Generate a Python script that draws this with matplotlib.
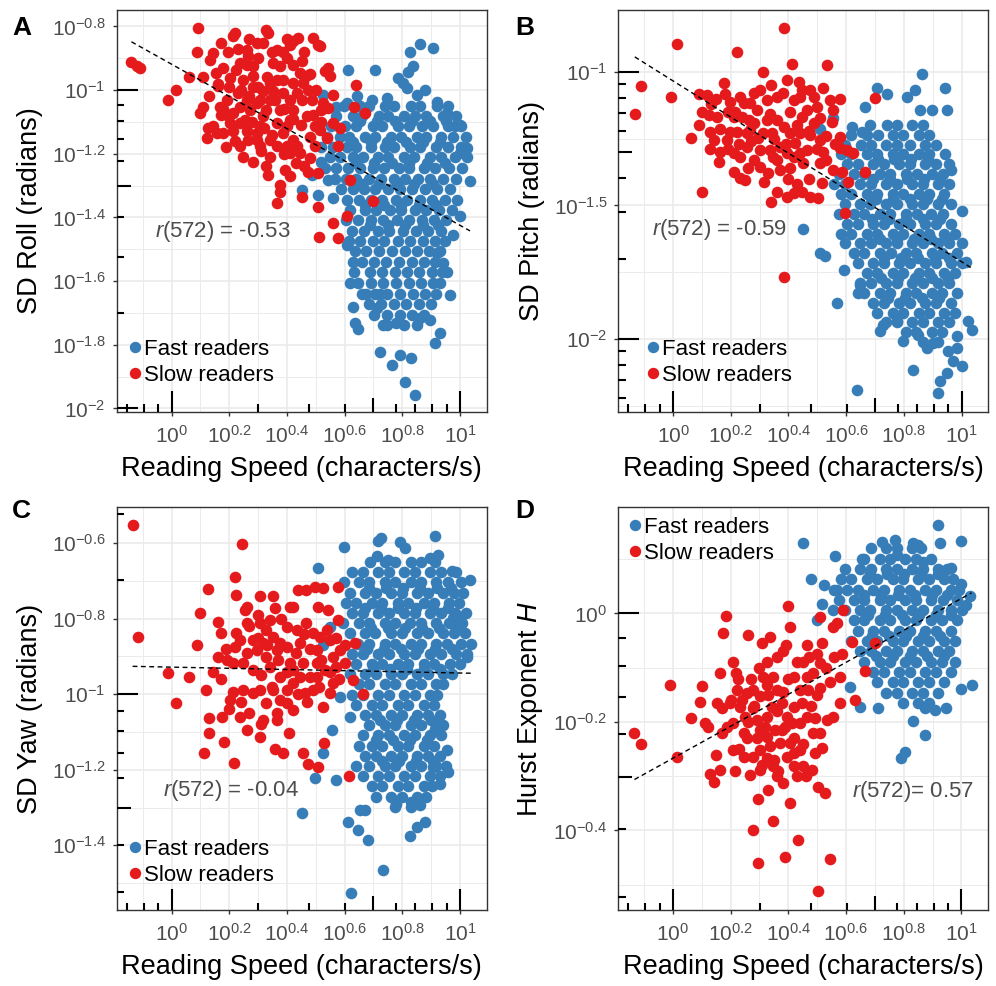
#!/usr/bin/env python3
"""
Head movement variability and Hurst exponent vs reading speed (log-log),
fast vs slow readers, with linear fit in log space.
"""
import numpy as np
import matplotlib
matplotlib.use('Agg')
import matplotlib.pyplot as plt
from matplotlib.lines import Line2D
from matplotlib.transforms import blended_transform_factory

plt.rcParams['font.family'] = ['Liberation Sans', 'DejaVu Sans']
plt.rcParams['mathtext.fontset'] = 'custom'
plt.rcParams['mathtext.rm'] = 'Liberation Sans'
plt.rcParams['mathtext.it'] = 'Liberation Sans:italic'
plt.rcParams['mathtext.bf'] = 'Liberation Sans:bold'
plt.rcParams['mathtext.default'] = 'regular'

BLUE = '#377EB8'
RED = '#E41A1C'

# all values are log10: (reading speed, measure)

# ---- A: SD roll ----
slow_roll = [
    (-0.139, -0.913), (-0.121, -0.926), (-0.110, -0.931), (-0.012, -1.031), (0.014, -0.999),
    (0.061, -0.959), (0.092, -0.805), (0.090, -0.879), (0.098, -1.073), (0.110, -1.052),
    (0.124, -1.151), (0.127, -1.120), (0.135, -0.905), (0.145, -0.884), (0.154, -0.947),
    (0.162, -0.987), (0.170, -0.852), (0.179, -0.931), (0.197, -0.879), (0.202, -0.962),
    (0.214, -0.831), (0.220, -0.821), (0.168, -1.052), (0.173, -1.078), (0.191, -1.031),
    (0.202, -1.104), (0.214, -1.130), (0.231, -1.010), (0.237, -1.052), (0.249, -0.968),
    (0.260, -0.873), (0.266, -0.894), (0.283, -0.926), (0.295, -0.852), (0.318, -0.852),
    (0.329, -0.810), (0.335, -0.821), (0.283, -0.957), (0.237, -1.177), (0.249, -1.209),
    (0.283, -1.225), (0.266, -1.156), (0.295, -1.135), (0.306, -1.114), (0.318, -1.083),
    (0.329, -1.062), (0.341, -1.031), (0.353, -1.004), (0.364, -0.968), (0.376, -0.926),
    (0.387, -0.879), (0.399, -0.900), (0.410, -0.858), (0.422, -0.847), (0.439, -0.837),
    (0.451, -0.910), (0.491, -0.837), (0.509, -0.858), (0.514, -0.863), (0.329, -1.240),
    (0.335, -1.266), (0.376, -1.298), (0.376, -1.319), (0.364, -1.356), (0.393, -1.251),
    (0.306, -1.177), (0.295, -1.156), (0.341, -1.156), (0.364, -1.177), (0.387, -1.135),
    (0.399, -1.114), (0.410, -1.094), (0.422, -1.156), (0.434, -1.177), (0.445, -1.198),
    (0.451, -1.031), (0.457, -0.978), (0.468, -0.957), (0.474, -0.999), (0.434, -1.010),
    (0.422, -0.978), (0.445, -0.947), (0.486, -1.031), (0.491, -1.078), (0.497, -1.114),
    (0.480, -1.146), (0.497, -1.177), (0.480, -1.214), (0.474, -1.256), (0.509, -1.261),
    (0.451, -1.335), (0.509, -1.366), (0.513, -1.460), (0.561, -1.418), (0.578, -1.466),
    (0.607, -1.397), (0.618, -1.282), (0.699, -1.350), (0.639, -0.983), (0.632, -1.052),
    (0.671, -1.073), (0.543, -0.931), (0.549, -0.957), (0.532, -0.941), (0.561, -1.015),
    (0.561, -1.104), (0.584, -1.120), (0.578, -1.177), (0.520, -1.062), (0.526, -1.041),
    (0.543, -1.057), (0.514, -1.125), (0.295, -1.041), (0.318, -1.004), (0.272, -1.062),
    (0.237, -1.104), (0.214, -1.073), (0.145, -1.114), (0.156, -1.135), (0.179, -1.135),
    (0.191, -1.078), (0.376, -1.062), (0.364, -1.104), (0.387, -1.010), (0.410, -1.031),
    (0.422, -1.062), (0.399, -1.177), (0.410, -1.198), (0.306, -1.031), (0.283, -0.989),
    (0.237, -0.915), (0.225, -0.936), (0.353, -0.915), (0.364, -0.873), (0.387, -0.968),
    (0.341, -0.978), (0.260, -1.031), (0.254, -1.094),
    (0.200, -0.990), (0.240, -1.000), (0.270, -1.020), (0.300, -0.990), (0.330, -0.960),
    (0.360, -1.030), (0.390, -1.060), (0.420, -1.090), (0.450, -1.110), (0.470, -1.080),
    (0.320, -1.120), (0.350, -1.140), (0.280, -1.100), (0.260, -1.130), (0.220, -1.160),
    (0.190, -1.180), (0.310, -1.190), (0.340, -1.210), (0.390, -1.200), (0.430, -1.230),
    (0.460, -1.240), (0.410, -1.270), (0.350, -0.880), (0.300, -0.900), (0.260, -0.920),
    (0.420, -0.920), (0.460, -0.880), (0.480, -0.950), (0.500, -1.000), (0.520, -1.100),
    (0.540, -1.150), (0.160, -0.980), (0.130, -1.020), (0.180, -1.060), (0.110, -0.960),
    (0.230, -0.870), (0.270, -0.840), (0.400, -0.840),
]
fast_roll = [
    (0.861, -0.855), (0.905, -0.868), (0.827, -0.879), (0.838, -0.926), (0.821, -0.942),
    (0.613, -0.936), (0.705, -0.936), (0.786, -0.962), (0.803, -0.978), (0.815, -0.994),
    (0.850, -1.015), (0.879, -0.999), (0.526, -1.015), (0.642, -1.020), (0.607, -1.041),
    (0.572, -1.052), (0.694, -1.031), (0.746, -1.025), (0.954, -1.073), (0.919, -1.036),
    (0.983, -1.114), (1.000, -1.109), (1.023, -1.183), (1.000, -1.198), (1.035, -1.287),
    (1.000, -1.397), (0.977, -1.455), (0.451, -1.314), (0.486, -1.266), (0.509, -1.329),
    (0.561, -1.340), (0.607, -1.487), (0.520, -1.225), (0.543, -1.282), (0.618, -1.607),
    (0.630, -1.681), (0.636, -1.733), (0.647, -1.749), (0.723, -1.822), (0.763, -1.864),
    (0.792, -1.833), (0.809, -1.916), (0.844, -1.958), (0.832, -1.843), (0.913, -1.796),
    (0.931, -1.764), (0.965, -1.644), (0.954, -1.570), (0.896, -1.722), (0.861, -1.717),
    (0.734, -1.738), (0.780, -1.733), (0.711, -1.686), (0.676, -1.639), (0.723, -1.639),
    (0.919, -1.513), (0.942, -1.544),
]
# dense part of the fast-reader cloud, one row per roll level
fast_roll_rows = [
    (-1.050, [0.598, 0.652, 0.683, 0.741, 0.772, 0.829, 0.861, 0.922, 0.958]),
    (-1.081, [0.571, 0.630, 0.662, 0.718, 0.750, 0.806, 0.845, 0.884, 0.941, 0.985]),
    (-1.097, [0.652, 0.713, 0.774, 0.833, 0.897, 0.951]),
    (-1.113, [0.552, 0.603, 0.640, 0.697, 0.729, 0.784, 0.822, 0.868, 0.905, 0.957, 1.002]),
    (-1.146, [0.538, 0.583, 0.615, 0.671, 0.706, 0.761, 0.797, 0.850, 0.884, 0.933, 0.975, 1.022]),
    (-1.162, [0.628, 0.690, 0.748, 0.812, 0.871, 0.930]),
    (-1.178, [0.519, 0.560, 0.607, 0.641, 0.693, 0.739, 0.772, 0.828, 0.861, 0.917, 0.958, 1.003]),
    (-1.211, [0.548, 0.585, 0.628, 0.664, 0.716, 0.751, 0.806, 0.840, 0.895, 0.933, 0.984, 1.024]),
    (-1.228, [0.641, 0.703, 0.766, 0.825, 0.886, 0.947]),
    (-1.245, [0.531, 0.570, 0.612, 0.655, 0.697, 0.737, 0.789, 0.823, 0.874, 0.913, 0.962, 1.008]),
    (-1.279, [0.566, 0.604, 0.639, 0.684, 0.726, 0.770, 0.808, 0.856, 0.897, 0.941, 0.986]),
    (-1.295, [0.660, 0.719, 0.781, 0.842, 0.905]),
    (-1.312, [0.587, 0.628, 0.666, 0.706, 0.752, 0.793, 0.833, 0.879, 0.919, 0.967]),
    (-1.344, [0.608, 0.651, 0.693, 0.731, 0.779, 0.818, 0.862, 0.902, 0.948, 0.989]),
    (-1.360, [0.672, 0.736, 0.795, 0.858, 0.917]),
    (-1.376, [0.619, 0.672, 0.710, 0.757, 0.797, 0.844, 0.883, 0.928, 0.972]),
    (-1.409, [0.606, 0.648, 0.692, 0.734, 0.781, 0.822, 0.868, 0.909, 0.951]),
    (-1.425, [0.688, 0.749, 0.811, 0.872, 0.925]),
    (-1.442, [0.627, 0.669, 0.716, 0.755, 0.803, 0.846, 0.889, 0.936]),
    (-1.474, [0.614, 0.652, 0.697, 0.738, 0.784, 0.826, 0.871, 0.915, 0.947]),
    (-1.507, [0.636, 0.676, 0.720, 0.763, 0.809, 0.852, 0.894, 0.931]),
    (-1.540, [0.628, 0.662, 0.703, 0.745, 0.790, 0.833, 0.876, 0.914]),
    (-1.573, [0.632, 0.688, 0.731, 0.774, 0.817, 0.859, 0.902, 0.938]),
    (-1.606, [0.645, 0.691, 0.734, 0.778, 0.822, 0.866, 0.908, 0.931]),
    (-1.639, [0.662, 0.705, 0.748, 0.791, 0.836, 0.879, 0.918]),
    (-1.672, [0.684, 0.727, 0.772, 0.814, 0.857, 0.898]),
    (-1.705, [0.702, 0.748, 0.792, 0.835, 0.876]),
    (-1.738, [0.748, 0.806, 0.852]),
]

# ---- B: SD pitch ----
slow_pitch = [
    (-0.133, -1.159), (-0.111, -1.052), (-0.009, -1.093), (0.014, -0.897), (0.062, -1.249),
    (0.091, -1.081), (0.118, -1.087), (0.100, -1.448), (0.089, -1.199), (0.123, -1.162),
    (0.129, -1.224), (0.127, -1.290), (0.158, -1.336), (0.164, -1.299), (0.178, -1.040),
    (0.181, -1.081), (0.198, -1.112), (0.221, -0.925), (0.216, -1.149), (0.221, -1.224),
    (0.210, -1.374), (0.233, -1.399), (0.250, -1.405), (0.233, -1.318), (0.256, -1.280),
    (0.262, -1.181), (0.268, -1.118), (0.291, -1.143), (0.296, -1.249), (0.310, -1.000),
    (0.302, -1.068), (0.325, -1.106), (0.337, -1.156), (0.343, -1.230), (0.302, -1.355),
    (0.314, -1.411), (0.339, -1.486), (0.360, -1.448), (0.371, -1.367), (0.383, -0.834),
    (0.394, -1.031), (0.412, -0.969), (0.435, -1.037), (0.383, -1.768), (0.371, -1.280),
    (0.394, -1.305), (0.383, -1.205), (0.360, -1.093), (0.406, -1.149), (0.418, -1.106),
    (0.441, -1.093), (0.446, -1.068), (0.475, -1.068), (0.487, -1.093), (0.533, -0.975),
    (0.406, -1.230), (0.423, -1.268), (0.441, -1.305), (0.464, -1.293), (0.418, -1.318),
    (0.406, -1.361), (0.394, -1.467), (0.418, -1.455), (0.446, -1.448), (0.475, -1.467),
    (0.504, -1.473), (0.515, -1.417), (0.510, -1.342), (0.521, -1.299), (0.510, -1.255),
    (0.475, -1.237), (0.510, -1.174), (0.544, -1.106), (0.556, -1.143), (0.579, -1.100),
    (0.550, -1.187), (0.579, -1.243), (0.579, -1.286), (0.602, -1.293), (0.556, -1.367),
    (0.585, -1.374), (0.608, -1.411), (0.625, -1.305), (0.596, -1.529), (0.666, -1.374),
    (0.700, -1.096), (0.325, -1.181), (0.348, -1.318), (0.279, -1.330), (0.268, -1.218),
    (0.198, -1.224), (0.164, -1.212), (0.210, -1.168), (0.245, -1.118), (0.233, -1.093),
    (0.446, -1.168), (0.464, -1.143), (0.487, -1.193), (0.441, -1.230), (0.360, -1.181),
    (0.337, -1.293), (0.302, -1.293), (0.152, -1.168), (0.141, -1.255), (0.187, -1.255),
    (0.210, -1.305), (0.256, -1.230),
    (0.150, -1.100), (0.190, -1.150), (0.240, -1.170), (0.280, -1.190), (0.310, -1.230),
    (0.350, -1.250), (0.390, -1.270), (0.430, -1.200), (0.470, -1.220), (0.500, -1.290),
    (0.530, -1.330), (0.450, -1.340), (0.400, -1.400), (0.360, -1.330), (0.270, -1.260),
    (0.230, -1.270), (0.190, -1.290), (0.260, -1.360), (0.330, -1.380), (0.430, -1.420),
    (0.470, -1.400), (0.530, -1.240), (0.560, -1.270), (0.280, -1.080), (0.340, -1.050),
    (0.380, -1.080), (0.500, -1.130), (0.520, -1.060), (0.130, -1.120), (0.100, -1.150),
]
fast_pitch = [
    (0.862, -1.009), (0.942, -1.059), (0.948, -1.143), (0.706, -1.062), (0.741, -1.081),
    (0.810, -1.093), (0.839, -1.068), (0.666, -1.133), (0.856, -1.143), (0.896, -1.143),
    (0.556, -1.174), (0.619, -1.205), (0.654, -1.224), (0.510, -1.212), (0.965, -1.367),
    (1.000, -1.519), (0.452, -1.589), (1.017, -1.710), (0.567, -1.866), (0.637, -2.189),
    (0.833, -2.115), (0.919, -2.202), (0.925, -2.158), (0.948, -2.127), (1.000, -2.102),
    (0.971, -2.083), (0.798, -2.009), (0.879, -2.034), (0.717, -1.971), (1.035, -1.965),
    (1.023, -1.934), (0.983, -1.990), (0.510, -1.679), (0.527, -1.691), (0.591, -1.741),
    (0.729, -1.946), (0.775, -1.934), (0.850, -1.984), (0.902, -2.015), (0.954, -2.046),
    (0.983, -2.034), (0.648, -1.797), (0.642, -1.828),
]
fast_pitch_rows = [
    (-1.200, [0.684, 0.741, 0.776, 0.829, 0.866]),
    (-1.236, [0.618, 0.672, 0.709, 0.763, 0.798, 0.851, 0.889]),
    (-1.273, [0.596, 0.651, 0.686, 0.739, 0.777, 0.822, 0.874, 0.911]),
    (-1.309, [0.582, 0.617, 0.671, 0.708, 0.762, 0.797, 0.852, 0.889, 0.942]),
    (-1.327, [0.712, 0.767, 0.826, 0.885]),
    (-1.346, [0.603, 0.640, 0.694, 0.731, 0.784, 0.821, 0.873, 0.912, 0.957]),
    (-1.383, [0.574, 0.626, 0.662, 0.717, 0.753, 0.806, 0.844, 0.897, 0.935]),
    (-1.402, [0.694, 0.752, 0.811, 0.871, 0.926]),
    (-1.421, [0.558, 0.597, 0.649, 0.686, 0.739, 0.776, 0.829, 0.866, 0.919, 0.956]),
    (-1.457, [0.581, 0.618, 0.672, 0.707, 0.762, 0.798, 0.851, 0.888, 0.941]),
    (-1.476, [0.705, 0.763, 0.822, 0.880, 0.933]),
    (-1.494, [0.596, 0.649, 0.684, 0.739, 0.776, 0.828, 0.866, 0.918, 0.962]),
    (-1.531, [0.575, 0.627, 0.663, 0.716, 0.753, 0.806, 0.844, 0.895, 0.936]),
    (-1.550, [0.688, 0.748, 0.807, 0.866, 0.925]),
    (-1.568, [0.604, 0.641, 0.694, 0.731, 0.784, 0.821, 0.874, 0.911, 0.963]),
    (-1.605, [0.581, 0.618, 0.671, 0.708, 0.762, 0.798, 0.851, 0.888, 0.941, 0.979]),
    (-1.624, [0.716, 0.775, 0.834, 0.893, 0.948]),
    (-1.642, [0.597, 0.648, 0.686, 0.739, 0.776, 0.829, 0.866, 0.918, 0.956, 1.003]),
    (-1.679, [0.626, 0.663, 0.716, 0.754, 0.806, 0.843, 0.896, 0.934, 0.985]),
    (-1.697, [0.731, 0.790, 0.849, 0.908, 0.958]),
    (-1.716, [0.641, 0.694, 0.731, 0.784, 0.821, 0.874, 0.911, 0.964, 1.002]),
    (-1.753, [0.672, 0.708, 0.762, 0.798, 0.851, 0.888, 0.941, 0.979]),
    (-1.771, [0.722, 0.781, 0.840, 0.899, 0.952]),
    (-1.790, [0.649, 0.686, 0.739, 0.776, 0.829, 0.866, 0.918, 0.957]),
    (-1.827, [0.663, 0.716, 0.753, 0.806, 0.843, 0.896, 0.934, 0.986]),
    (-1.845, [0.745, 0.804, 0.863, 0.921]),
    (-1.864, [0.694, 0.731, 0.784, 0.821, 0.874, 0.911, 0.963]),
    (-1.901, [0.708, 0.762, 0.798, 0.851, 0.888, 0.941, 0.979]),
    (-1.938, [0.739, 0.776, 0.829, 0.866, 0.918, 0.957]),
    (-1.975, [0.806, 0.843, 0.896, 0.934]),
    (-2.012, [0.866, 0.918]),
]

# ---- C: SD yaw ----
slow_yaw = [
    (-0.135, -0.553), (-0.116, -0.848), (-0.012, -0.943), (0.014, -1.023), (0.061, -0.955),
    (0.090, -0.870), (0.098, -0.786), (0.125, -0.722), (0.112, -1.155), (0.129, -1.062),
    (0.130, -1.104), (0.119, -0.989), (0.145, -0.940), (0.162, -0.808), (0.173, -0.839),
    (0.162, -0.901), (0.176, -1.060), (0.181, -1.126), (0.202, -1.016), (0.214, -0.993),
    (0.220, -0.690), (0.223, -0.737), (0.216, -1.182), (0.225, -0.839), (0.220, -0.874),
    (0.246, -0.603), (0.255, -0.777), (0.260, -0.812), (0.260, -0.892), (0.237, -1.060),
    (0.260, -1.095), (0.249, -0.989), (0.283, -0.856), (0.295, -0.883), (0.306, -0.741),
    (0.318, -0.865), (0.306, -1.113), (0.318, -1.069), (0.329, -0.901), (0.341, -0.927),
    (0.353, -0.741), (0.358, -0.772), (0.353, -0.848), (0.358, -1.144), (0.364, -1.069),
    (0.387, -1.157), (0.376, -1.016), (0.376, -0.954), (0.399, -0.821), (0.410, -0.768),
    (0.399, -0.874), (0.410, -0.918), (0.408, -1.104), (0.422, -1.042), (0.439, -0.724),
    (0.468, -0.724), (0.497, -0.715), (0.526, -0.719), (0.445, -0.865), (0.457, -0.918),
    (0.462, -0.998), (0.480, -0.954), (0.491, -0.839), (0.503, -0.883), (0.509, -0.768),
    (0.543, -0.777), (0.532, -0.936), (0.526, -1.033), (0.530, -1.130), (0.457, -1.157),
    (0.474, -1.184), (0.509, -1.192), (0.561, -0.971), (0.578, -0.715), (0.578, -0.803),
    (0.584, -0.883), (0.636, -0.865), (0.630, -0.963), (0.665, -1.000), (0.616, -1.217),
    (0.561, -0.901), (0.549, -0.998), (0.491, -0.989), (0.422, -0.971), (0.399, -0.989),
    (0.353, -0.989), (0.306, -0.989), (0.283, -0.936), (0.329, -0.830), (0.306, -0.812),
    (0.364, -0.883), (0.341, -0.803), (0.376, -0.865), (0.434, -0.830), (0.468, -0.812),
    (0.514, -0.848), (0.549, -0.856), (0.572, -0.927), (0.601, -0.918), (0.445, -0.954),
    (0.503, -0.954), (0.503, -0.918), (0.422, -0.936), (0.214, -0.918), (0.191, -0.909),
    (0.249, -0.918), (0.237, -0.856), (0.283, -0.998), (0.329, -1.024), (0.364, -1.051),
    (0.399, -1.024),
    (0.270, -0.820), (0.300, -0.850), (0.330, -0.870), (0.370, -0.910), (0.400, -0.940),
    (0.430, -0.890), (0.460, -0.840), (0.480, -0.880), (0.520, -0.910), (0.550, -0.940),
    (0.580, -0.960), (0.310, -0.950), (0.350, -0.980), (0.440, -1.000), (0.470, -1.020),
    (0.510, -0.980), (0.260, -0.770), (0.300, -0.790), (0.380, -0.800), (0.420, -0.770),
    (0.240, -1.020), (0.270, -1.050), (0.310, -1.080), (0.200, -1.040), (0.170, -0.960),
    (0.190, -0.880), (0.570, -0.850), (0.600, -0.870), (0.540, -0.830),
]
fast_yaw = [
    (0.913, -0.581), (0.728, -0.587), (0.717, -0.595), (0.792, -0.596), (0.809, -0.613),
    (0.599, -0.611), (0.509, -0.665), (0.711, -0.635), (0.751, -0.644), (0.896, -0.640),
    (0.925, -0.631), (0.971, -0.675), (1.035, -0.697), (1.000, -0.795), (0.977, -0.799),
    (1.023, -0.901), (0.549, -0.821), (0.526, -0.870), (0.555, -1.095), (0.526, -1.157),
    (0.497, -1.223), (0.570, -1.228), (0.451, -1.314), (0.613, -1.338), (0.647, -1.360),
    (0.682, -1.387), (0.653, -1.307), (0.671, -1.307), (0.734, -1.465), (0.621, -1.527),
    (0.827, -1.375), (0.879, -1.338), (0.850, -1.352), (0.780, -1.290), (0.832, -1.285),
    (0.861, -1.294), (0.960, -1.206), (0.931, -1.237), (0.954, -1.148), (0.913, -1.091),
    (0.908, -1.192), (0.584, -1.007), (0.618, -1.060),
]
fast_yaw_rows = [
    (-0.650, [0.688, 0.741, 0.776, 0.829, 0.866, 0.912]),
    (-0.677, [0.626, 0.663, 0.716, 0.753, 0.806, 0.843, 0.896, 0.934, 0.985]),
    (-0.704, [0.597, 0.649, 0.686, 0.739, 0.776, 0.829, 0.866, 0.918, 0.957, 1.003]),
    (-0.718, [0.684, 0.742, 0.801, 0.860, 0.919, 0.968]),
    (-0.731, [0.618, 0.672, 0.708, 0.762, 0.798, 0.851, 0.888, 0.941, 0.979, 1.012]),
    (-0.758, [0.604, 0.641, 0.694, 0.731, 0.784, 0.821, 0.874, 0.911, 0.963, 0.998]),
    (-0.772, [0.670, 0.728, 0.787, 0.846, 0.905, 0.960]),
    (-0.785, [0.627, 0.663, 0.716, 0.753, 0.806, 0.844, 0.895, 0.936, 0.984, 1.021]),
    (-0.812, [0.596, 0.649, 0.684, 0.739, 0.776, 0.828, 0.866, 0.918, 0.962, 1.006]),
    (-0.826, [0.692, 0.750, 0.809, 0.868, 0.927, 0.985]),
    (-0.839, [0.618, 0.672, 0.707, 0.762, 0.798, 0.851, 0.888, 0.941, 0.979, 1.018]),
    (-0.866, [0.648, 0.686, 0.739, 0.776, 0.829, 0.866, 0.918, 0.956, 1.003, 1.038]),
    (-0.880, [0.677, 0.736, 0.795, 0.854, 0.913, 0.972]),
    (-0.893, [0.626, 0.663, 0.716, 0.754, 0.806, 0.843, 0.896, 0.934, 0.985, 1.026]),
    (-0.920, [0.641, 0.694, 0.731, 0.784, 0.821, 0.874, 0.911, 0.964, 1.001]),
    (-0.934, [0.700, 0.758, 0.817, 0.876, 0.930]),
    (-0.947, [0.618, 0.672, 0.708, 0.762, 0.798, 0.851, 0.888, 0.941, 0.972]),
    (-0.974, [0.649, 0.686, 0.739, 0.776, 0.829, 0.866, 0.918, 0.942]),
    (-1.001, [0.626, 0.663, 0.716, 0.753, 0.806, 0.843, 0.896, 0.921]),
    (-1.028, [0.641, 0.694, 0.731, 0.784, 0.821, 0.874, 0.911]),
    (-1.055, [0.672, 0.708, 0.762, 0.798, 0.851, 0.888, 0.932]),
    (-1.068, [0.722, 0.781, 0.840, 0.899]),
    (-1.082, [0.686, 0.739, 0.776, 0.829, 0.866, 0.918, 0.943]),
    (-1.109, [0.663, 0.716, 0.753, 0.806, 0.843, 0.896, 0.934]),
    (-1.122, [0.708, 0.767, 0.826, 0.885]),
    (-1.136, [0.649, 0.694, 0.731, 0.784, 0.821, 0.874, 0.911]),
    (-1.163, [0.672, 0.708, 0.762, 0.798, 0.851, 0.888, 0.932]),
    (-1.176, [0.730, 0.789, 0.848, 0.905]),
    (-1.190, [0.641, 0.686, 0.739, 0.776, 0.829, 0.866, 0.918, 0.951]),
    (-1.217, [0.663, 0.716, 0.753, 0.806, 0.843, 0.896, 0.931]),
    (-1.244, [0.694, 0.731, 0.784, 0.821, 0.874, 0.902]),
    (-1.271, [0.708, 0.762, 0.798, 0.851, 0.881]),
    (-1.298, [0.776, 0.829]),
]

# ---- D: Hurst exponent ----
slow_hurst = [
    (-0.133, -0.221), (-0.110, -0.240), (-0.009, -0.132), (0.016, -0.264), (0.062, -0.192),
    (0.100, -0.134), (0.095, -0.163), (0.112, -0.202), (0.123, -0.209), (0.129, -0.296),
    (0.141, -0.310), (0.164, -0.288), (0.152, -0.166), (0.164, -0.109), (0.173, -0.037),
    (0.183, -0.004), (0.170, -0.175), (0.189, -0.209), (0.199, -0.166), (0.210, -0.089),
    (0.210, -0.252), (0.216, -0.291), (0.221, -0.141), (0.227, -0.120), (0.233, -0.172),
    (0.250, -0.190), (0.256, -0.230), (0.262, -0.040), (0.268, -0.298), (0.279, -0.400),
    (0.291, -0.196), (0.296, -0.342), (0.296, -0.460), (0.302, -0.153), (0.308, -0.054),
    (0.325, -0.267), (0.331, -0.325), (0.337, -0.043), (0.325, -0.089), (0.325, -0.132),
    (0.343, -0.172), (0.348, -0.383), (0.354, -0.215), (0.360, -0.080), (0.366, -0.291),
    (0.371, -0.239), (0.377, -0.166), (0.383, -0.144), (0.389, -0.448), (0.392, -0.058),
    (0.400, 0.013), (0.406, -0.025), (0.406, -0.350), (0.412, -0.202), (0.418, -0.117),
    (0.418, -0.258), (0.435, -0.418), (0.441, -0.252), (0.446, -0.166), (0.452, -0.089),
    (0.464, -0.058), (0.469, -0.141), (0.481, -0.288), (0.487, -0.221), (0.492, -0.193),
    (0.498, -0.074), (0.504, -0.512), (0.510, -0.006), (0.515, -0.055), (0.515, -0.248),
    (0.504, -0.319), (0.527, -0.331), (0.533, -0.196), (0.544, -0.453), (0.556, -0.190),
    (0.579, -0.166), (0.556, -0.025), (0.567, -0.018), (0.579, -0.117), (0.585, -0.074),
    (0.591, 0.006), (0.619, -0.052), (0.631, -0.160), (0.665, -0.107), (0.700, -0.055),
    (0.544, -0.126), (0.510, -0.138), (0.487, -0.110), (0.510, -0.092), (0.464, -0.117),
    (0.441, -0.141), (0.418, -0.172), (0.394, -0.190), (0.377, -0.215), (0.406, -0.239),
    (0.394, -0.264), (0.418, -0.282), (0.452, -0.282), (0.492, -0.258), (0.510, -0.221),
    (0.348, -0.117), (0.314, -0.117), (0.279, -0.141), (0.256, -0.147), (0.302, -0.215),
    (0.325, -0.227), (0.337, -0.245), (0.302, -0.252), (0.348, -0.282), (0.383, -0.313),
    (0.245, -0.221), (0.210, -0.202), (0.279, -0.175), (0.325, -0.190), (0.360, -0.141),
    (0.441, -0.202), (0.464, -0.190), (0.279, -0.264), (0.245, -0.264), (0.302, -0.288),
    (0.240, -0.160), (0.270, -0.120), (0.300, -0.100), (0.330, -0.150), (0.360, -0.180),
    (0.390, -0.210), (0.420, -0.230), (0.450, -0.240), (0.480, -0.170), (0.500, -0.150),
    (0.530, -0.100), (0.560, -0.080), (0.290, -0.230), (0.260, -0.200), (0.230, -0.250),
    (0.310, -0.280), (0.350, -0.270), (0.430, -0.300), (0.460, -0.300), (0.400, -0.120),
    (0.430, -0.090), (0.470, -0.080), (0.380, -0.070), (0.200, -0.160), (0.170, -0.220),
    (0.150, -0.260), (0.360, -0.300), (0.320, -0.210), (0.280, -0.170), (0.220, -0.110),
]
fast_hurst = [
    (0.919, 0.163), (1.000, 0.134), (0.452, 0.129), (0.925, 0.129), (0.723, 0.132),
    (0.769, 0.135), (0.833, 0.129), (0.850, 0.126), (0.562, 0.106), (0.477, 0.063),
    (0.524, 0.052), (0.963, 0.083), (0.654, 0.101), (0.867, 0.095), (0.775, 0.107),
    (1.029, 0.032), (1.017, 0.015), (1.000, 0.055), (1.035, -0.132), (1.000, -0.140),
    (0.833, -0.199), (0.873, -0.224), (0.804, -0.255), (0.792, -0.267), (0.712, -0.175),
    (0.648, -0.172), (0.614, -0.135), (0.873, -0.175), (0.908, -0.178), (0.948, -0.175),
    (0.498, -0.012), (0.515, 0.018), (0.556, 0.006), (0.567, 0.043),
]
fast_hurst_rows = [
    (0.120, [0.686, 0.739, 0.776, 0.829, 0.861]),
    (0.101, [0.663, 0.716, 0.753, 0.806, 0.843, 0.896]),
    (0.082, [0.597, 0.649, 0.686, 0.739, 0.776, 0.829, 0.866, 0.918, 0.951]),
    (0.072, [0.682, 0.741, 0.800, 0.859, 0.917]),
    (0.063, [0.581, 0.618, 0.672, 0.708, 0.762, 0.798, 0.851, 0.888, 0.941, 0.972]),
    (0.044, [0.558, 0.604, 0.641, 0.694, 0.731, 0.784, 0.821, 0.874, 0.911, 0.963, 0.991]),
    (0.034, [0.663, 0.722, 0.781, 0.840, 0.899, 0.950]),
    (0.025, [0.575, 0.627, 0.663, 0.716, 0.753, 0.806, 0.844, 0.895, 0.936, 0.984]),
    (0.006, [0.596, 0.649, 0.684, 0.739, 0.776, 0.828, 0.866, 0.918, 0.962, 1.001]),
    (-0.003, [0.676, 0.735, 0.794, 0.853, 0.912, 0.965]),
    (-0.013, [0.626, 0.663, 0.716, 0.754, 0.806, 0.843, 0.896, 0.934, 0.985]),
    (-0.032, [0.641, 0.694, 0.731, 0.784, 0.821, 0.874, 0.911, 0.964]),
    (-0.041, [0.690, 0.749, 0.808, 0.867, 0.926]),
    (-0.051, [0.618, 0.672, 0.708, 0.762, 0.798, 0.851, 0.888, 0.941, 0.979]),
    (-0.070, [0.649, 0.686, 0.739, 0.776, 0.829, 0.866, 0.918, 0.957]),
    (-0.079, [0.705, 0.764, 0.823, 0.882, 0.941]),
    (-0.089, [0.663, 0.716, 0.753, 0.806, 0.843, 0.896, 0.934, 0.976]),
    (-0.108, [0.694, 0.731, 0.784, 0.821, 0.874, 0.911, 0.963]),
    (-0.127, [0.708, 0.762, 0.798, 0.851, 0.888, 0.941]),
    (-0.146, [0.739, 0.776, 0.829, 0.866, 0.918]),
    (-0.165, [0.798, 0.851, 0.888]),
]


def expand_rows(rows):
    """turn (y, [x, ...]) rows into (x, y) pairs"""
    return [(lx, ly) for ly, xs in rows for lx in xs]


def tick_label(v):
    v = round(v, 2)
    if v == int(v):
        return r'$10^{%d}$' % int(v)
    return r'$10^{%g}$' % v


def add_logticks(ax, xlim, ylim):
    """ggplot-style annotation_logticks on bottom and left, drawn inside"""
    bbox = ax.get_window_extent()
    w_px, h_px = bbox.width, bbox.height
    lengths = {1: 21, 5: 14}
    short = 7.5
    tx = blended_transform_factory(ax.transData, ax.transAxes)
    ty = blended_transform_factory(ax.transAxes, ax.transData)
    for n in range(int(np.floor(xlim[0])), int(np.ceil(xlim[1])) + 1):
        for k in range(1, 10):
            v = k * 10.0 ** n
            if 10 ** xlim[0] <= v <= 10 ** xlim[1]:
                L = lengths.get(k, short) / h_px
                ax.plot([v, v], [0, L], transform=tx, color='black', lw=1.5,
                        solid_capstyle='butt', zorder=5, clip_on=False)
    for n in range(int(np.floor(ylim[0])), int(np.ceil(ylim[1])) + 1):
        for k in range(1, 10):
            v = k * 10.0 ** n
            if 10 ** ylim[0] <= v <= 10 ** ylim[1]:
                L = lengths.get(k, short) / w_px
                ax.plot([0, L], [v, v], transform=ty, color='black', lw=1.5,
                        solid_capstyle='butt', zorder=5, clip_on=False)


XLIM = (-0.19, 1.093)
X_MAJOR = [0, 0.2, 0.4, 0.6, 0.8, 1.0]
X_MINOR = [-0.1, 0.1, 0.3, 0.5, 0.7, 0.9]

panels = [
    dict(letter='A', rect=[0.1172, 0.5822, 0.3715, 0.4080],
         slow=slow_roll, fast=fast_roll + expand_rows(fast_roll_rows),
         ylabel='SD Roll (radians)', ylim=(-2.011, -0.7475),
         y_major=[-0.8, -1.0, -1.2, -1.4, -1.6, -1.8, -2.0],
         y_minor=[-0.9, -1.1, -1.3, -1.5, -1.7, -1.9],
         rtext='$\\mathit{r}$(572) = -0.53', rpos=(-0.058, -1.443),
         legend_at=(0.0376, 0.181)),
    dict(letter='B', rect=[0.6208, 0.5822, 0.3715, 0.4080],
         slow=slow_pitch, fast=fast_pitch + expand_rows(fast_pitch_rows),
         ylabel='SD Pitch (radians)', ylim=(-2.273, -0.767),
         y_major=[-1.0, -1.5, -2.0], y_minor=[-1.25, -1.75, -2.25],
         rtext='$\\mathit{r}$(572) = -0.59', rpos=(-0.073, -1.589),
         legend_at=(0.082, 0.181)),
    dict(letter='C', rect=[0.1172, 0.0768, 0.3715, 0.4090],
         slow=slow_yaw, fast=fast_yaw + expand_rows(fast_yaw_rows),
         ylabel='SD Yaw (radians)', ylim=(-1.572, -0.5045),
         y_major=[-0.6, -0.8, -1.0, -1.2, -1.4], y_minor=[-0.7, -0.9, -1.1, -1.3, -1.5],
         rtext='$\\mathit{r}$(572) = -0.04', rpos=(-0.031, -1.254),
         legend_at=(0.0376, 0.177)),
    dict(letter='D', rect=[0.6205, 0.0768, 0.3718, 0.4090],
         slow=slow_hurst, fast=fast_hurst + expand_rows(fast_hurst_rows),
         ylabel='Hurst Exponent $\\mathit{H}$', ylim=(-0.547, 0.196),
         y_major=[0.0, -0.2, -0.4], y_minor=[0.1, -0.1, -0.3, -0.5],
         rtext='$\\mathit{r}$(572)= 0.57', rpos=(0.619, -0.328),
         legend_at=(0.035, 0.976)),
]


def draw_panel(fig, p):
    ax = fig.add_axes(p['rect'])
    slow = np.array(p['slow'])
    fast = np.array(p['fast'])
    ylim = p['ylim']

    ax.set_xscale('log')
    ax.set_yscale('log')
    ax.set_xlim(10 ** XLIM[0], 10 ** XLIM[1])
    ax.set_ylim(10 ** ylim[0], 10 ** ylim[1])

    # grid like theme_bw
    ax.set_xticks([10 ** v for v in X_MAJOR])
    ax.set_xticklabels([tick_label(v) for v in X_MAJOR])
    ax.set_xticks([10 ** v for v in X_MINOR], minor=True)
    ax.set_yticks([10 ** v for v in p['y_major']])
    ax.set_yticklabels([tick_label(v) for v in p['y_major']])
    ax.set_yticks([10 ** v for v in p['y_minor']], minor=True)
    ax.xaxis.set_minor_formatter(matplotlib.ticker.NullFormatter())
    ax.yaxis.set_minor_formatter(matplotlib.ticker.NullFormatter())
    ax.grid(True, which='major', color='#EBEBEB', lw=1.2, zorder=0)
    ax.grid(True, which='minor', color='#EBEBEB', lw=0.7, zorder=0)
    ax.set_axisbelow(True)
    ax.tick_params(which='major', direction='out', length=3, width=1.0,
                   color='#333333', labelsize=15, labelcolor='#4D4D4D')
    ax.tick_params(axis='x', which='major', pad=6)
    ax.tick_params(axis='y', which='major', pad=5)
    ax.tick_params(which='minor', length=0)
    for s in ax.spines.values():
        s.set_color('#333333')
        s.set_linewidth(1.0)

    ax.scatter(10 ** fast[:, 0], 10 ** fast[:, 1], s=70, color=BLUE, lw=0, zorder=2)
    ax.scatter(10 ** slow[:, 0], 10 ** slow[:, 1], s=70, color=RED, lw=0, zorder=3)

    # linear fit in log-log space over all readers
    allp = np.vstack([slow, fast])
    slope, icpt = np.polyfit(allp[:, 0], allp[:, 1], 1)
    xs = np.array([allp[:, 0].min(), allp[:, 0].max()])
    ax.plot(10 ** xs, 10 ** (icpt + slope * xs), color='black', lw=1.0,
            ls=(0, (3.5, 2.5)), zorder=4)

    ax.text(10 ** p['rpos'][0], 10 ** p['rpos'][1], p['rtext'], ha='left',
            va='center', fontsize=16, color='#4D4D4D', zorder=6)

    handles = [Line2D([], [], ls='', marker='o', markersize=8.2, color=BLUE, mew=0),
               Line2D([], [], ls='', marker='o', markersize=8.2, color=RED, mew=0)]
    ax.legend(handles, ['Fast readers', 'Slow readers'], loc='upper left',
              bbox_to_anchor=p['legend_at'], frameon=False, fontsize=16,
              borderpad=0, borderaxespad=0, handlelength=0.4, handletextpad=0.2,
              labelspacing=0.23)

    ax.set_xlabel('Reading Speed (characters/s)', fontsize=19.5, labelpad=7)
    ax.set_ylabel(p['ylabel'], fontsize=19.5, labelpad=6)

    add_logticks(ax, XLIM, ylim)
    return ax


fig = plt.figure(figsize=(9.96, 9.86), dpi=100)
for p in panels:
    draw_panel(fig, p)

fig.text(12 / 996, 1 - 35 / 986, 'A', fontsize=19, fontweight='bold', va='baseline')
fig.text(515 / 996, 1 - 35 / 986, 'B', fontsize=19, fontweight='bold', va='baseline')
fig.text(12 / 996, 1 - 518 / 986, 'C', fontsize=19, fontweight='bold', va='baseline')
fig.text(515 / 996, 1 - 518 / 986, 'D', fontsize=19, fontweight='bold', va='baseline')

fig.savefig('out.png', dpi=100)
